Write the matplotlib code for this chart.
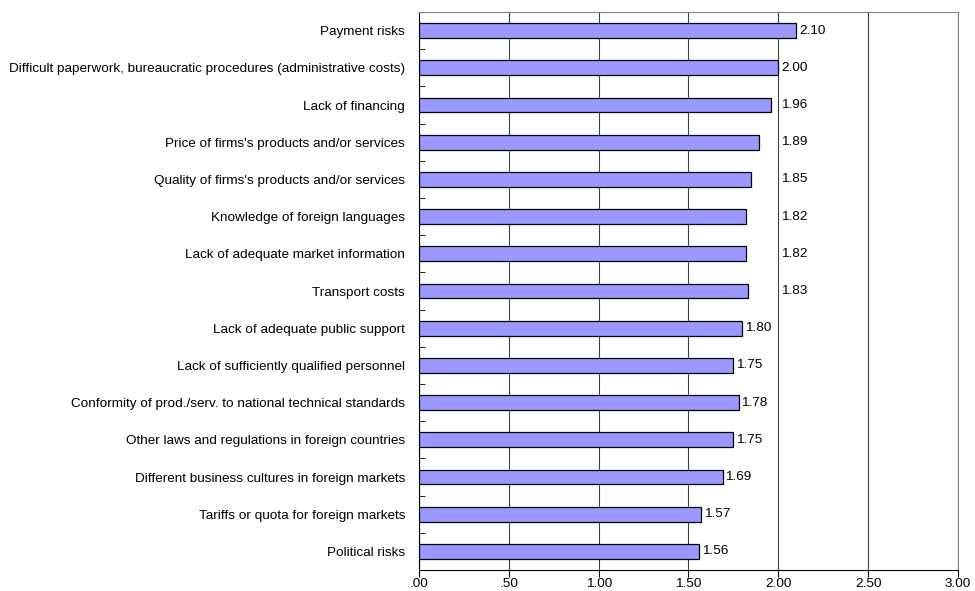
import numpy as np
import matplotlib
matplotlib.use("Agg")
import matplotlib.pyplot as plt

plt.rcParams['font.family'] = ['Liberation Sans', 'DejaVu Sans']

# barriers, top to bottom as in the chart
barriers = [
    "Payment risks",
    "Difficult paperwork, bureaucratic procedures (administrative costs)",
    "Lack of financing",
    "Price of firms's products and/or services",
    "Quality of firms's products and/or services",
    "Knowledge of foreign languages",
    "Lack of adequate market information",
    "Transport costs",
    "Lack of adequate public support",
    "Lack of sufficiently qualified personnel",
    "Conformity of prod./serv. to national technical standards",
    "Other laws and regulations in foreign countries",
    "Different business cultures in foreign markets",
    "Tariffs or quota for foreign markets",
    "Political risks",
]
scores = [2.10, 2.00, 1.96, 1.89, 1.85, 1.82, 1.82, 1.83,
          1.80, 1.75, 1.78, 1.75, 1.69, 1.57, 1.56]
# in the original some value labels were dragged out past the 2.00 line
label_moved = [False, False, True, True, True, True, True, True,
               False, False, False, False, False, False, False]

xticks = [0, 0.5, 1.0, 1.5, 2.0, 2.5, 3.0]
xticklabels = [".00", ".50", "1.00", "1.50", "2.00", "2.50", "3.00"]

fs = 9.7

fig = plt.figure(figsize=(9.75, 5.91), dpi=100)
ax = fig.add_axes([0.4297, 0.0355, 0.5529, 0.9442])

y = np.arange(len(barriers))
ax.barh(y, scores, height=0.4, color="#9999FF", edgecolor="black",
        linewidth=0.9, zorder=3)

for i, v in enumerate(scores):
    xpos = 2.0 if label_moved[i] else v
    ax.text(xpos + 0.015, y[i], f"{v:.2f}", va="center", ha="left",
            fontsize=fs, zorder=4)

ax.set_xlim(0, 3)
ax.set_ylim(len(barriers) - 0.5, -0.5)
ax.set_xticks(xticks)
ax.set_xticklabels(xticklabels, fontsize=fs)
ax.set_yticks(y)
ax.set_yticklabels(barriers, fontsize=fs)
ax.tick_params(axis="y", length=0, pad=10)
ax.tick_params(axis="x", length=5, direction="out", pad=1, color="black")

# category boundary ticks on the value axis, like excel
ax.set_yticks(np.arange(len(barriers) + 1) - 0.5, minor=True)
ax.tick_params(axis="y", which="minor", length=4, direction="in", color="black")

ax.grid(axis="x", color="#404040", linewidth=0.8, zorder=0)
ax.set_axisbelow(True)
for side in ["top", "right"]:
    ax.spines[side].set_color("#808080")
    ax.spines[side].set_linewidth(0.8)
ax.spines["left"].set_color("black")
ax.spines["bottom"].set_color("black")

fig.savefig("out.png", dpi=100)
